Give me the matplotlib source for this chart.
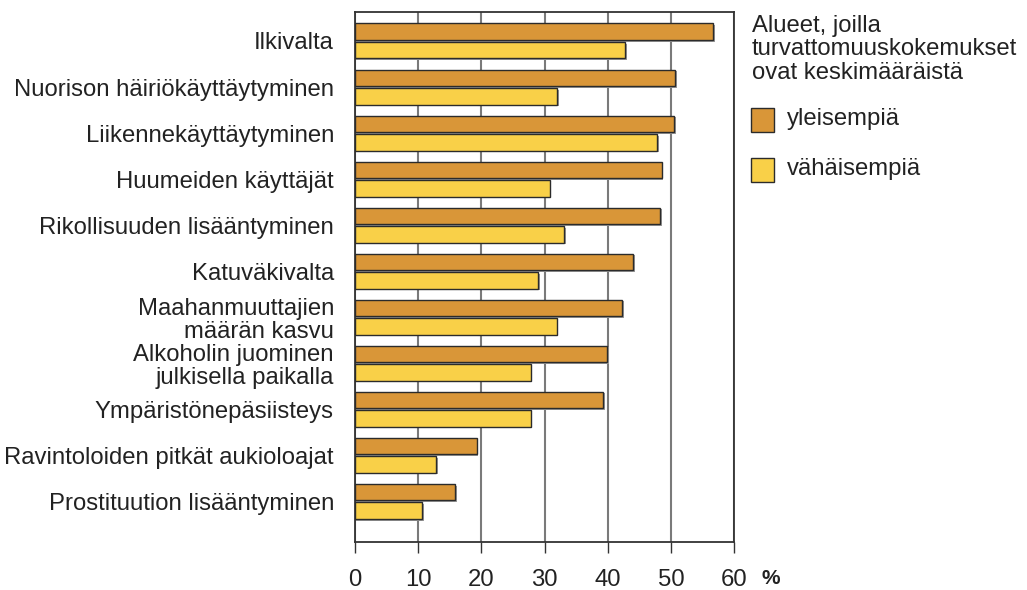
import matplotlib
matplotlib.use("Agg")
import matplotlib.pyplot as plt
import matplotlib.patheffects as pe
import numpy as np

# categories, top to bottom
categories = [
    "Ilkivalta",
    "Nuorison häiriökäyttäytyminen",
    "Liikennekäyttäytyminen",
    "Huumeiden käyttäjät",
    "Rikollisuuden lisääntyminen",
    "Katuväkivalta",
    "Maahanmuuttajien\nmäärän kasvu",
    "Alkoholin juominen\njulkisella paikalla",
    "Ympäristönepäsiisteys",
    "Ravintoloiden pitkät aukioloajat",
    "Prostituution lisääntyminen",
]
# areas where insecurity experiences are more common than average
yleisempia = [56.7, 50.7, 50.5, 48.5, 48.3, 44.0, 42.3, 39.9, 39.3, 19.3, 15.9]
# areas where they are less common
vahaisempia = [42.8, 32.0, 47.8, 30.8, 33.1, 29.0, 31.9, 27.8, 27.8, 12.9, 10.7]
xticks = [0, 10, 20, 30, 40, 50, 60]

plt.rcParams["font.family"] = ["Liberation Sans", "DejaVu Sans"]

orange = "#D99638"
yellow = "#F9D048"
edge = "#2b2b2b"
fs = 17.2

fig = plt.figure(figsize=(10.27, 5.9), dpi=100)
ax = fig.add_axes([0.3454, 0.0808, 0.3696, 0.8989])

y = np.arange(len(categories))
shadow = [pe.SimplePatchShadow(offset=(1.2, -1.2), shadow_rgbFace="#9a9a9a", alpha=1), pe.Normal()]
b1 = ax.barh(y - 0.2, yleisempia, height=0.36, color=orange, edgecolor=edge, linewidth=1, zorder=3)
b2 = ax.barh(y + 0.2, vahaisempia, height=0.36, color=yellow, edgecolor=edge, linewidth=1, zorder=3)
for b in list(b1) + list(b2):
    b.set_path_effects(shadow)

ax.set_xlim(0, 60)
ax.set_ylim(len(categories) - 1 + 0.89, -0.63)
ax.set_xticks(xticks)
ax.set_xticklabels([str(t) for t in xticks], fontsize=fs, color="#222")
ax.tick_params(axis="x", length=8, width=1, color="#333", pad=11)
ax.set_yticks(y)
ax.set_yticklabels(categories, fontsize=fs, color="#222", linespacing=1.1)
ax.tick_params(axis="y", length=0, pad=15)

ax.xaxis.grid(True, color="#7a7a7a", linewidth=1.5, zorder=0)
ax.set_axisbelow(True)
for s in ax.spines.values():
    s.set_color("#333")
    s.set_linewidth(1.3)

fig.text(771 / 1027, 1 - 578 / 590, "%", fontsize=15, fontweight="bold", ha="center", va="center", color="#222")

# legend drawn by hand on the right
fig.text(752 / 1027, 1 - 15 / 590, "Alueet, joilla\nturvattomuuskokemukset\novat keskimääräistä",
         fontsize=fs, ha="left", va="top", linespacing=1.08, color="#222")
for col, lab, yc in [(orange, "yleisempiä", 120), (yellow, "vähäisempiä", 170)]:
    fig.patches.append(plt.Rectangle((751 / 1027, 1 - (yc + 12) / 590), 23 / 1027, 24 / 590,
                                     transform=fig.transFigure, facecolor=col, edgecolor=edge, linewidth=1))
    fig.text(787 / 1027, 1 - (yc - 1) / 590, lab, fontsize=fs, ha="left", va="center", color="#222")

fig.savefig("out.png", dpi=100)
